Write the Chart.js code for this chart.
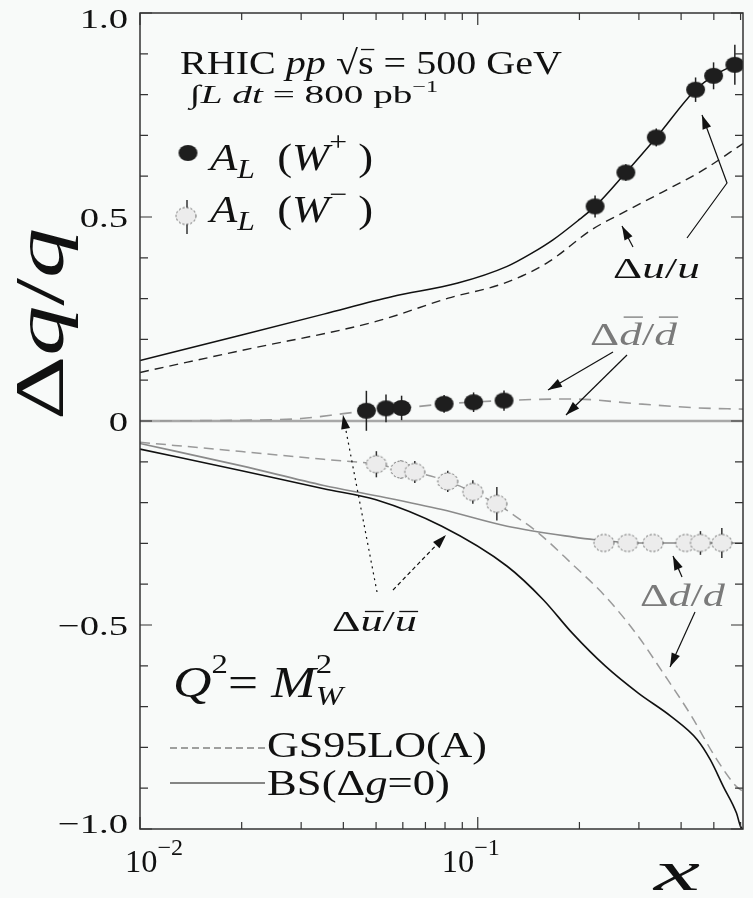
<!DOCTYPE html>
<html>
<head>
<meta charset="utf-8">
<script src="https://cdn.jsdelivr.net/npm/chart.js@4.4.1/dist/chart.umd.min.js"></script>
<style>
  html, body { margin: 0; padding: 0; background: #f8faf9; }
  canvas { display: block; }
</style>
</head>
<body>
<canvas id="chart" width="753" height="898"></canvas>
<script>
// ---- data ----
// W+ asymmetry points (filled)
const wPlusX = [0.0468, 0.0535, 0.0595, 0.0795, 0.0972, 0.1196, 0.2225, 0.2744, 0.3377, 0.4415, 0.4991, 0.577];
const wPlusY = [0.025, 0.031, 0.032, 0.042, 0.046, 0.050, 0.526, 0.609, 0.695, 0.812, 0.846, 0.873];
const wPlusErr = [0.049, 0.034, 0.030, 0.022, 0.024, 0.025, 0.027, 0.020, 0.022, 0.030, 0.033, 0.049];

// W- asymmetry points (open, grey)
const wMinusX = [0.0501, 0.0592, 0.0651, 0.0815, 0.0967, 0.1139, 0.2363, 0.278, 0.3304, 0.4128, 0.4564, 0.528];
const wMinusY = [-0.106, -0.119, -0.125, -0.148, -0.174, -0.203, -0.299, -0.299, -0.299, -0.299, -0.299, -0.299];
const wMinusErr = [0.032, 0.022, 0.027, 0.026, 0.029, 0.041, 0.010, 0.010, 0.010, 0.015, 0.029, 0.037];

// Δu/u, BS (solid) and GS95LO(A) (dashed)
const uBSx = [0.01, 0.02, 0.035, 0.056, 0.0873, 0.1222, 0.145, 0.167, 0.2, 0.2225, 0.2744, 0.3377, 0.4415, 0.4991, 0.577, 0.61];
const uBSy = [0.148, 0.211, 0.262, 0.305, 0.338, 0.379, 0.412, 0.444, 0.494, 0.526, 0.609, 0.695, 0.812, 0.846, 0.873, 0.88];
const uGSx = [0.01, 0.02, 0.05, 0.0818, 0.12, 0.16, 0.2185, 0.2613, 0.35, 0.4667, 0.61];
const uGSy = [0.119, 0.173, 0.244, 0.301, 0.338, 0.387, 0.47, 0.505, 0.56, 0.616, 0.68];

// Δd̄/d̄ (= Δū/ū for GS95), GS95 dashed; BS is zero
const dbarGSx = [0.01, 0.02, 0.03, 0.04, 0.0468, 0.06, 0.08, 0.1, 0.12, 0.15, 0.19, 0.3, 0.45, 0.61];
const dbarGSy = [0.0, 0.002, 0.006, 0.018, 0.025, 0.032, 0.042, 0.047, 0.05, 0.053, 0.054, 0.042, 0.032, 0.029];
const dbarBSx = [0.01, 0.61];
const dbarBSy = [0, 0];

// Δd/d, GS95 dashed and BS solid (grey)
const dGSx = [0.01, 0.02, 0.035, 0.0501, 0.0592, 0.0651, 0.0815, 0.0967, 0.1139, 0.13, 0.149, 0.19, 0.2388, 0.3, 0.349, 0.4269, 0.5105, 0.5835, 0.61];
const dGSy = [-0.052, -0.075, -0.094, -0.106, -0.119, -0.125, -0.148, -0.174, -0.203, -0.235, -0.27, -0.35, -0.43, -0.53, -0.61, -0.72, -0.83, -0.896, -0.908];
const dBSx = [0.01, 0.02, 0.035, 0.05, 0.0783, 0.1222, 0.1905, 0.2225, 0.3, 0.61];
const dBSy = [-0.055, -0.11, -0.158, -0.183, -0.217, -0.258, -0.284, -0.291, -0.299, -0.299];

// Δū/ū, BS (solid black)
const ubarBSx = [0.01, 0.02, 0.035, 0.05, 0.0783, 0.1222, 0.1563, 0.1905, 0.2388, 0.2987, 0.3734, 0.4465, 0.488, 0.5336, 0.5835, 0.6, 0.61];
const ubarBSy = [-0.069, -0.122, -0.166, -0.193, -0.258, -0.356, -0.438, -0.52, -0.601, -0.667, -0.724, -0.781, -0.83, -0.896, -0.961, -0.994, -1.0];

// axes
const xMin = 0.01, xMax = 0.61;
const yMin = -1, yMax = 1;
const yTickVals = [1, 0.5, 0, -0.5, -1];
const yTickLabels = ['1.0', '0.5', '0', '\u22120.5', '\u22121.0'];
const xTickVals = [0.01, 0.1];
const xTickExps = ['\u22122', '\u22121'];

const SERIF = '"Liberation Serif", "DejaVu Serif", serif';
const GREY = '#7a7a7a';

function pts(xs, ys) { return xs.map((x, i) => ({ x: x, y: ys[i] })); }

function ellipseMarker(w, h, fill, stroke, dash) {
  const c = document.createElement('canvas');
  c.width = w + 4; c.height = h + 4;
  const g = c.getContext('2d');
  g.beginPath();
  g.ellipse(c.width / 2, c.height / 2, w / 2, h / 2, 0, 0, Math.PI * 2);
  g.fillStyle = fill;
  g.fill();
  if (stroke) {
    g.setLineDash(dash || []);
    g.strokeStyle = stroke;
    g.lineWidth = 1;
    g.stroke();
  }
  return c;
}
const blackDot = ellipseMarker(19, 16, '#1e1e1e');
const greyDot = ellipseMarker(20, 17, '#ececec', '#555', [2, 2]);

function curve(xs, ys, color, dash, width) {
  return {
    data: pts(xs, ys), showLine: true, pointRadius: 0, borderColor: color,
    borderDash: dash || [], borderWidth: width || 1.5, cubicInterpolationMode: 'monotone', fill: false
  };
}

// draw a run of text pieces, squeezed/stretched to a given width
function rich(ctx, x, y, size, width, segs, color) {
  const fontOf = s => (s.it ? 'italic ' : '') + Math.round(size * (s.sz || 1)) + 'px ' + SERIF;
  let total = 0;
  const ws = segs.map(s => {
    ctx.font = fontOf(s);
    const w = ctx.measureText(s.t).width;
    if (!s.noAdv) total += w;
    return w;
  });
  const sx = width ? width / total : 1;
  ctx.save();
  ctx.translate(x, y);
  ctx.scale(sx, 1);
  ctx.fillStyle = color || '#111';
  ctx.strokeStyle = color || '#111';
  ctx.textBaseline = 'alphabetic';
  ctx.textAlign = 'left';
  let cx = 0;
  segs.forEach((s, i) => {
    ctx.font = fontOf(s);
    const dy = (s.dy || 0) * size;
    ctx.fillText(s.t, cx, dy);
    if (s.bar) {
      ctx.lineWidth = 1.3;
      ctx.beginPath();
      ctx.moveTo(cx + ws[i] * 0.2, dy - s.bar * size);
      ctx.lineTo(cx + ws[i] * 1.05, dy - s.bar * size);
      ctx.stroke();
    }
    if (!s.noAdv) cx += ws[i];
  });
  ctx.restore();
}

function arrow(ctx, p, opt) {
  opt = opt || {};
  ctx.save();
  ctx.strokeStyle = opt.color || '#111';
  ctx.fillStyle = opt.color || '#111';
  ctx.lineWidth = opt.width || 1.2;
  ctx.setLineDash(opt.dash || []);
  ctx.beginPath();
  ctx.moveTo(p[0][0], p[0][1]);
  for (let i = 1; i < p.length; i++) ctx.lineTo(p[i][0], p[i][1]);
  ctx.stroke();
  ctx.setLineDash([]);
  const a = p[p.length - 2], b = p[p.length - 1];
  const ang = Math.atan2(b[1] - a[1], b[0] - a[0]);
  const L = opt.head || 14, W = 4.5;
  ctx.beginPath();
  ctx.moveTo(b[0], b[1]);
  ctx.lineTo(b[0] - L * Math.cos(ang) + W * Math.sin(ang), b[1] - L * Math.sin(ang) - W * Math.cos(ang));
  ctx.lineTo(b[0] - L * Math.cos(ang) - W * Math.sin(ang), b[1] - L * Math.sin(ang) + W * Math.cos(ang));
  ctx.closePath();
  ctx.fill();
  ctx.restore();
}

const figurePlugin = {
  id: 'figure',
  beforeDraw(chart) {
    const ctx = chart.ctx;
    ctx.save();
    ctx.fillStyle = '#f8faf9';
    ctx.fillRect(0, 0, chart.width, chart.height);
    ctx.restore();
  },
  beforeDatasetDraw(chart, args) {
    const ds = chart.data.datasets[args.index];
    if (!ds.errs) return;
    const xs = chart.scales.x, ys = chart.scales.y, ctx = chart.ctx;
    ctx.save();
    ctx.strokeStyle = ds.errColor;
    ctx.lineWidth = 1.5;
    ds.data.forEach((p, i) => {
      const px = xs.getPixelForValue(p.x);
      ctx.beginPath();
      ctx.moveTo(px, ys.getPixelForValue(p.y + ds.errs[i]));
      ctx.lineTo(px, ys.getPixelForValue(p.y - ds.errs[i]));
      ctx.stroke();
    });
    ctx.restore();
  },
  afterDraw(chart) {
    const ctx = chart.ctx, a = chart.chartArea;
    const xs = chart.scales.x, ys = chart.scales.y;

    // frame
    ctx.save();
    ctx.strokeStyle = '#333';
    ctx.lineWidth = 1.5;
    ctx.strokeRect(a.left, a.top, a.right - a.left, a.bottom - a.top);

    // inward ticks
    ctx.lineWidth = 1.2;
    ctx.beginPath();
    for (let k = -10; k <= 10; k++) {
      const v = k / 10;
      const py = ys.getPixelForValue(v);
      const len = (k % 5 === 0) ? 12 : 8;
      ctx.moveTo(a.left, py); ctx.lineTo(a.left + len, py);
      ctx.moveTo(a.right, py); ctx.lineTo(a.right - len, py);
    }
    [0.01, 0.1].forEach(dec => {
      for (let m = 1; m <= 9; m++) {
        const v = dec * m;
        if (v > xMax + 1e-9) continue;
        const px = xs.getPixelForValue(v);
        const len = m === 1 ? 12 : 7;
        ctx.moveTo(px, a.bottom); ctx.lineTo(px, a.bottom - len);
        ctx.moveTo(px, a.top); ctx.lineTo(px, a.top + len);
      }
    });
    ctx.stroke();
    ctx.restore();

    // y tick labels
    yTickVals.forEach((v, i) => {
      let py = ys.getPixelForValue(v) + 10;
      if (v === 1) py += 5;
      if (v === -1) py -= 6;
      const txt = yTickLabels[i];
      ctx.save();
      ctx.font = '28px ' + SERIF;
      const w = ctx.measureText(txt).width * 1.38;
      ctx.restore();
      rich(ctx, 128 - w, py, 28, w, [{ t: txt }]);
    });
    // x tick labels: 10^-2, 10^-1
    xTickVals.forEach((v, i) => {
      const px = xs.getPixelForValue(v);
      const left = i === 0 ? 125 : px - 36;
      rich(ctx, left, 872, 31, 58, [{ t: '10' }, { t: xTickExps[i], sz: 0.75, dy: -0.55 }]);
    });

    // axis titles
    ctx.save();
    ctx.translate(63, 420);
    ctx.rotate(-Math.PI / 2);
    rich(ctx, 0, 0, 70, 192, [{ t: '\u0394' }, { t: 'q', it: true }, { t: '/' }, { t: 'q', it: true }]);
    ctx.restore();
    rich(ctx, 654, 890, 56, 46, [{ t: 'x', it: true }]);

    // header text
    rich(ctx, 180, 74, 34, 382, [{ t: 'RHIC ' }, { t: 'pp', it: true }, { t: ' \u221A' }, { t: 's', bar: 0.72 }, { t: ' = 500 GeV' }]);
    rich(ctx, 190, 103, 26, 248, [{ t: '\u222B' }, { t: 'L dt', it: true }, { t: ' = 800 pb' }, { t: '\u22121', sz: 0.62, dy: -0.42 }]);

    // legend of data points
    ctx.drawImage(blackDot, 188 - blackDot.width / 2, 153 - blackDot.height / 2);
    rich(ctx, 210, 170, 38, 163, [{ t: 'A', it: true }, { t: 'L', it: true, sz: 0.7, dy: 0.22 }, { t: '  (' },
      { t: 'W', it: true }, { t: '+', sz: 0.7, dy: -0.5 }, { t: ' )' }]);
    ctx.save();
    ctx.strokeStyle = '#333'; ctx.lineWidth = 1.5;
    ctx.beginPath(); ctx.moveTo(187, 200); ctx.lineTo(187, 234); ctx.stroke();
    ctx.restore();
    ctx.drawImage(greyDot, 186 - greyDot.width / 2, 216 - greyDot.height / 2);
    rich(ctx, 210, 222, 38, 163, [{ t: 'A', it: true }, { t: 'L', it: true, sz: 0.7, dy: 0.22 }, { t: '  (' },
      { t: 'W', it: true }, { t: '\u2212', sz: 0.7, dy: -0.5 }, { t: ' )' }]);

    // curve labels
    rich(ctx, 613, 278, 30, 87, [{ t: '\u0394' }, { t: 'u', it: true }, { t: '/' }, { t: 'u', it: true }]);
    rich(ctx, 590, 345, 31, 87, [{ t: '\u0394' }, { t: 'd', it: true, bar: 0.9 }, { t: '/' }, { t: 'd', it: true, bar: 0.9 }], GREY);
    rich(ctx, 640, 606, 31, 85, [{ t: '\u0394' }, { t: 'd', it: true }, { t: '/' }, { t: 'd', it: true }], GREY);
    rich(ctx, 332, 631, 30, 85, [{ t: '\u0394' }, { t: 'u', it: true, bar: 0.65 }, { t: '/' }, { t: 'u', it: true, bar: 0.65 }]);

    // arrows
    arrow(ctx, [[633, 247], [622, 226]]);
    arrow(ctx, [[687, 238], [727, 183], [702, 115]]);
    arrow(ctx, [[613, 352], [548, 390]]);
    arrow(ctx, [[627, 355], [566, 415]]);
    arrow(ctx, [[682, 577], [673, 556]]);
    arrow(ctx, [[695, 612], [670, 667]]);
    arrow(ctx, [[377, 592], [343, 415]], { dash: [2, 4] });
    arrow(ctx, [[393, 590], [446, 535]], { dash: [4, 3] });

    // Q^2 = M_W^2 and line legend
    rich(ctx, 173, 697, 44, 170, [{ t: 'Q', it: true }, { t: '2', sz: 0.62, dy: -0.55 }, { t: '= ' },
      { t: 'M', it: true }, { t: '2', sz: 0.62, dy: -0.55, noAdv: true }, { t: 'W', it: true, sz: 0.62, dy: 0.18 }]);
    ctx.save();
    ctx.lineWidth = 1.2;
    ctx.strokeStyle = '#444';
    ctx.setLineDash([7, 4]);
    ctx.beginPath(); ctx.moveTo(170, 748); ctx.lineTo(265, 748); ctx.stroke();
    ctx.setLineDash([]);
    ctx.strokeStyle = '#111';
    ctx.beginPath(); ctx.moveTo(170, 783); ctx.lineTo(265, 783); ctx.stroke();
    ctx.restore();
    rich(ctx, 267, 757, 36, 220, [{ t: 'GS95LO(A)' }]);
    rich(ctx, 267, 795, 35, 183, [{ t: 'BS(\u0394' }, { t: 'g', it: true }, { t: '=0)' }]);
  }
};

const datasets = [
  { data: pts(wPlusX, wPlusY), errs: wPlusErr, errColor: '#222', showLine: false, pointStyle: blackDot, pointRadius: 9 },
  { data: pts(wMinusX, wMinusY), errs: wMinusErr, errColor: '#333', showLine: false, pointStyle: greyDot, pointRadius: 9 },
  curve(uBSx, uBSy, '#111', [], 1.5),
  curve(uGSx, uGSy, '#222', [9, 6], 1.4),
  curve(dbarGSx, dbarGSy, '#9a9a9a', [12, 8], 1.6),
  curve(dbarBSx, dbarBSy, '#a8a8a8', [], 2.6),
  curve(dGSx, dGSy, '#9a9a9a', [10, 6], 1.5),
  curve(dBSx, dBSy, '#8a8a8a', [], 1.6),
  curve(ubarBSx, ubarBSy, '#111', [], 1.6)
];

new Chart(document.getElementById('chart').getContext('2d'), {
  type: 'scatter',
  data: { datasets: datasets },
  options: {
    responsive: false,
    animation: false,
    layout: { padding: { left: 140, top: 13, right: 1.5, bottom: 69 } },
    scales: {
      x: { type: 'logarithmic', min: xMin, max: xMax, display: false },
      y: { type: 'linear', min: yMin, max: yMax, display: false }
    },
    plugins: { legend: { display: false }, tooltip: { enabled: false } }
  },
  plugins: [figurePlugin]
});
</script>
</body>
</html>
